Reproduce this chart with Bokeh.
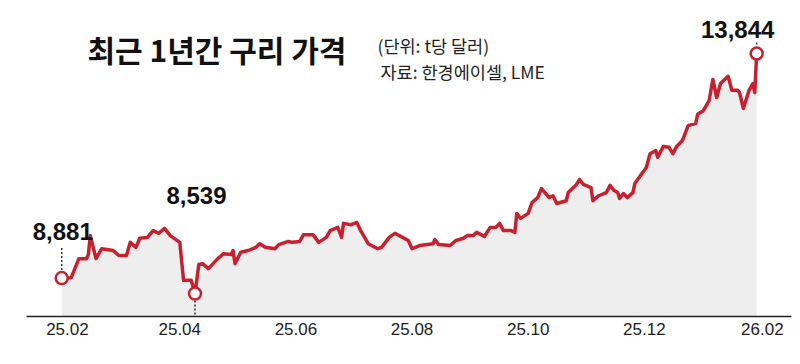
import pandas as pd
from bokeh.plotting import figure
from bokeh.models import Range1d, FixedTicker, Label, ColumnDataSource
from bokeh.embed import file_html
from bokeh.resources import INLINE

# ---- data (LME copper, USD per tonne) ----
dates = [
    "2025-01-29", "2025-02-03", "2025-02-07", "2025-02-11", "2025-02-12", "2025-02-13", "2025-02-16",
    "2025-02-19", "2025-02-25", "2025-02-28", "2025-03-04", "2025-03-06", "2025-03-09", "2025-03-11",
    "2025-03-15", "2025-03-18", "2025-03-21", "2025-03-24", "2025-03-27", "2025-04-01", "2025-04-03",
    "2025-04-07", "2025-04-09", "2025-04-11", "2025-04-13", "2025-04-16", "2025-04-21", "2025-04-24",
    "2025-04-28", "2025-04-29", "2025-04-30", "2025-05-03", "2025-05-07", "2025-05-11", "2025-05-13",
    "2025-05-16", "2025-05-21", "2025-05-23", "2025-05-28", "2025-05-30", "2025-06-03", "2025-06-05",
    "2025-06-10", "2025-06-13", "2025-06-17", "2025-06-19", "2025-06-23", "2025-06-25", "2025-06-26",
    "2025-06-30", "2025-07-03", "2025-07-05", "2025-07-09", "2025-07-14", "2025-07-16", "2025-07-20",
    "2025-07-23", "2025-07-27", "2025-07-30", "2025-08-01", "2025-08-05", "2025-08-12", "2025-08-13",
    "2025-08-15", "2025-08-21", "2025-08-24", "2025-08-28", "2025-08-30", "2025-09-02", "2025-09-04",
    "2025-09-08", "2025-09-11", "2025-09-14", "2025-09-16", "2025-09-18", "2025-09-22", "2025-09-24",
    "2025-09-25", "2025-09-27", "2025-10-01", "2025-10-03", "2025-10-06", "2025-10-08", "2025-10-12",
    "2025-10-14", "2025-10-16", "2025-10-21", "2025-10-22", "2025-10-26", "2025-10-28", "2025-10-30",
    "2025-11-03", "2025-11-04", "2025-11-07", "2025-11-11", "2025-11-13", "2025-11-15", "2025-11-17",
    "2025-11-18", "2025-11-20", "2025-11-22", "2025-11-25", "2025-11-26", "2025-11-29", "2025-12-02",
    "2025-12-04", "2025-12-07", "2025-12-08", "2025-12-11", "2025-12-14", "2025-12-16", "2025-12-18",
    "2025-12-21", "2025-12-24", "2025-12-28", "2025-12-29", "2026-01-01", "2026-01-04", "2026-01-06",
    "2026-01-08", "2026-01-10", "2026-01-14", "2026-01-16", "2026-01-19", "2026-01-20", "2026-01-22",
    "2026-01-25", "2026-01-27", "2026-01-28", "2026-01-29",
]
prices = [
    8881, 8890, 9310, 9310, 9400, 9820, 9310,
    9530, 9490, 9380, 9380, 9670, 9560, 9760,
    9780, 9930, 9870, 9980, 9820, 9670, 8830,
    8830, 8539, 9180, 9200, 9090, 9310, 9420,
    9400, 9490, 9200, 9450, 9490, 9560, 9640,
    9560, 9530, 9620, 9690, 9670, 9690, 9840,
    9840, 9670, 9780, 9930, 10000, 9780, 10090,
    10060, 10110, 9930, 9640, 9530, 9560, 9780,
    9870, 9780, 9710, 9530, 9600, 9640, 9730,
    9620, 9600, 9710, 9760, 9820, 9820, 9890,
    9800, 10000, 10000, 10090, 9930, 9930, 9890,
    10310, 10200, 10310, 10550, 10660, 10860, 10660,
    10700, 10530, 10590, 10770, 10930, 11060, 10950,
    10880, 10590, 10700, 10770, 10930, 10820, 10770,
    10640, 10750, 10660, 10770, 10970, 11150, 11320,
    11630, 11700, 11550, 11790, 11770, 11630, 11790,
    11920, 12250, 12300, 12500, 12580, 12800, 13270,
    12870, 13180, 13340, 13030, 13030, 12980, 12630,
    13030, 13180, 12980, 13844,
]
tick_dates = ["2025-02-01", "2025-04-01", "2025-06-01", "2025-08-01",
              "2025-10-01", "2025-12-01", "2026-02-01"]
tick_labels = ["25.02", "25.04", "25.06", "25.08", "25.10", "25.12", "26.02"]
title_text = "최근 1년간 구리 가격"
unit_text = "(단위: t당 달러)"
source_text = "자료: 한경에이셀, LME"

# ---- layout constants ----
RED = "#C8202F"
TXT = "#111111"
Y_START, Y_END = 8031, 14839
FRAME_H = 308
PX = (Y_END - Y_START) / FRAME_H  # value units per pixel

def ms(d):
    return pd.Timestamp(d).value / 1e6

xs = [ms(d) for d in dates]
tick_ms = [ms(d) for d in tick_dates]

src = ColumnDataSource(dict(x=xs, y=prices, base=[Y_START] * len(prices)))

p = figure(width=792, height=356, x_axis_type="datetime",
           x_range=Range1d(ms("2025-01-10 12:00"), ms("2026-02-16 07:00")),
           y_range=Range1d(Y_START, Y_END),
           output_backend="svg", toolbar_location=None, y_axis_location=None,
           min_border_left=26, min_border_right=1, min_border_top=8, min_border_bottom=40)
p.xgrid.visible = False
p.ygrid.visible = False
p.outline_line_color = None
p.background_fill_color = "white"
p.border_fill_color = "white"

ax = p.xaxis[0]
ax.ticker = FixedTicker(ticks=tick_ms)
ax.major_label_overrides = {t: l for t, l in zip(tick_ms, tick_labels)}
ax.major_tick_line_color = None
ax.minor_tick_line_color = None
ax.major_tick_out = 0
ax.major_tick_in = 0
ax.axis_line_color = "#222222"
ax.axis_line_width = 1.5
ax.major_label_text_font = "Liberation Sans"
ax.major_label_text_font_size = "17px"
ax.major_label_text_color = "#222222"
ax.major_label_standoff = 6

p.varea(x="x", y1="base", y2="y", source=src, fill_color="#EEEEEE")
p.line(x="x", y="y", source=src, line_color=RED, line_width=3.5, line_join="round")

# key points
i_min = prices.index(min(prices))
keys = [(0, 1, 47, f"{prices[0]:,}"), (i_min, 1.5, 98, f"{prices[i_min]:,}"),
        (len(prices) - 1, -19, 24, f"{prices[-1]:,}")]

# dotted leader lines
seg_x0, seg_y0, seg_y1 = [], [], []
seg_x0.append(xs[0]); seg_y0.append(prices[0] + 8 * PX); seg_y1.append(prices[0] + 31 * PX)
seg_x0.append(xs[i_min]); seg_y0.append(prices[i_min] - 7 * PX); seg_y1.append(Y_START)
seg_x0.append(xs[-1]); seg_y0.append(prices[-1] + 9 * PX); seg_y1.append(prices[-1] + 12 * PX)
p.segment(x0=seg_x0, y0=seg_y0, x1=seg_x0, y1=seg_y1, line_color="#333333",
          line_width=1.5, line_dash="2 2")

p.scatter(x=[xs[k[0]] for k in keys], y=[prices[k[0]] for k in keys], size=12,
          fill_color="white", line_color=RED, line_width=2.5)

for idx, xo, yo, txt in keys:
    p.add_layout(Label(x=xs[idx], y=prices[idx], x_offset=xo, y_offset=yo, text=txt,
                       text_align="center", text_baseline="alphabetic",
                       text_font="Liberation Sans", text_font_style="bold",
                       text_font_size="24px", text_color=TXT))

# title and source (screen units relative to frame: x from left, y from bottom)
p.add_layout(Label(x=61, y=268, x_units="screen", y_units="screen", text=title_text,
                   text_align="left", text_baseline="middle",
                   text_font="Noto Sans CJK KR", text_font_style="bold",
                   text_font_size="30px", text_color=TXT))
p.add_layout(Label(x=351, y=271, x_units="screen", y_units="screen", text=unit_text,
                   text_align="left", text_baseline="middle",
                   text_font="Noto Sans CJK KR", text_font_size="17.5px", text_color="#222222"))
p.add_layout(Label(x=354, y=245, x_units="screen", y_units="screen", text=source_text,
                   text_align="left", text_baseline="middle",
                   text_font="Noto Sans CJK KR", text_font_size="17.5px", text_color="#222222"))

open("out.html", "w").write(file_html(p, INLINE))
